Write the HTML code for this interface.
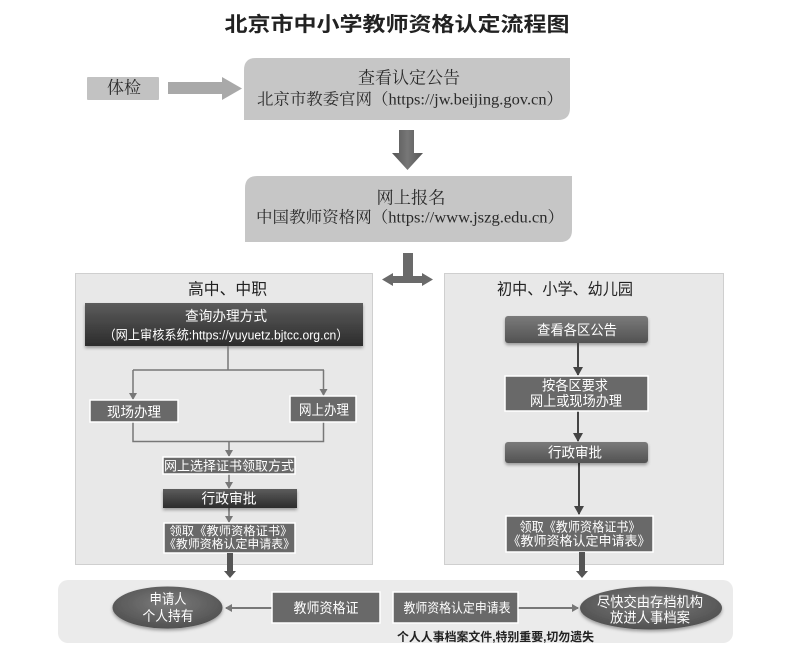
<!DOCTYPE html>
<html><head><meta charset="utf-8">
<style>
html,body{margin:0;padding:0;background:#fff;}
svg{display:block;}
.s{font-family:"Liberation Sans","Noto Sans CJK SC",sans-serif;}
.r{font-family:"Liberation Serif","Noto Serif CJK SC",serif;}
</style></head>
<body>
<svg width="801" height="668" viewBox="0 0 801 668" xmlns="http://www.w3.org/2000/svg">
<defs>
<linearGradient id="dk" x1="0" y1="0" x2="0" y2="1">
<stop offset="0" stop-color="#5c5c5c"/><stop offset="1" stop-color="#2c2c2c"/>
</linearGradient>
<linearGradient id="md" x1="0" y1="0" x2="0" y2="1">
<stop offset="0" stop-color="#7a7a7a"/><stop offset="1" stop-color="#525252"/>
</linearGradient>
<linearGradient id="ar" x1="0" y1="0" x2="1" y2="0">
<stop offset="0" stop-color="#555"/><stop offset="0.5" stop-color="#777"/><stop offset="1" stop-color="#555"/>
</linearGradient>
<radialGradient id="el" cx="0.5" cy="0.4" r="0.6">
<stop offset="0" stop-color="#7c7c7c"/><stop offset="1" stop-color="#505050"/>
</radialGradient>
<filter id="sh" x="-10%" y="-20%" width="120%" height="160%">
<feDropShadow dx="0" dy="2" stdDeviation="1.5" flood-color="#000" flood-opacity="0.35"/>
</filter>
<marker id="ah" markerWidth="8" markerHeight="8" refX="6" refY="4" orient="auto" markerUnits="userSpaceOnUse">
<path d="M0,0 L7,4 L0,8 Z" fill="#777"/>
</marker>
<marker id="ahd" markerWidth="10" markerHeight="10" refX="8" refY="5" orient="auto" markerUnits="userSpaceOnUse">
<path d="M0,0 L9,5 L0,10 Z" fill="#444"/>
</marker>
</defs>

<!-- Title -->
<text class="s" x="397" y="25" font-size="20" font-weight="bold" fill="#222" text-anchor="middle" dominant-baseline="central" textLength="345" lengthAdjust="spacingAndGlyphs">北京市中小学教师资格认定流程图</text>

<!-- 体检 -->
<rect x="87" y="77" width="72" height="23" fill="#c2c2c2" rx="1"/>
<text class="r" x="124" y="88" font-size="17" fill="#2a2a2a" text-anchor="middle" dominant-baseline="central" textLength="34" lengthAdjust="spacingAndGlyphs">体检</text>
<path d="M168,82 H222 V77 L242,88.5 L222,100 V94 H168 Z" fill="#a9a9a9"/>

<!-- Box 1 -->
<path d="M256,58 H570 V108 Q570,120 558,120 H244 V70 Q244,58 256,58 Z" fill="#c6c6c6"/>
<text class="r" x="409" y="78" font-size="17" fill="#2a2a2a" text-anchor="middle" dominant-baseline="central" textLength="102" lengthAdjust="spacingAndGlyphs">查看认定公告</text>
<text class="r" x="410" y="100" font-size="16" fill="#2a2a2a" text-anchor="middle" dominant-baseline="central" textLength="306" lengthAdjust="spacingAndGlyphs">北京市教委官网（https://jw.beijing.gov.cn）</text>

<!-- Down arrow -->
<path d="M399,130 H414 V153 H423 L407.5,170 L392,153 H399 Z" fill="url(#ar)"/>

<!-- Box 2 -->
<path d="M257,176 H572 V230 Q572,242 560,242 H245 V188 Q245,176 257,176 Z" fill="#c6c6c6"/>
<text class="r" x="411" y="198" font-size="17" fill="#2a2a2a" text-anchor="middle" dominant-baseline="central" textLength="69" lengthAdjust="spacingAndGlyphs">网上报名</text>
<text class="r" x="410" y="218" font-size="16" fill="#2a2a2a" text-anchor="middle" dominant-baseline="central" textLength="308" lengthAdjust="spacingAndGlyphs">中国教师资格网（https://www.jszg.edu.cn）</text>

<!-- T arrow -->
<path d="M403,253 H413 V276 H422 V273 L433,279.5 L422,286 V283 H393 V286 L382,279.5 L393,273 V276 H403 Z" fill="#6a6a6a"/>

<!-- Panels -->
<rect x="75.5" y="273.5" width="297" height="291" fill="#e8e8e8" stroke="#cfcfcf" stroke-width="1"/>
<rect x="444.5" y="273.5" width="279" height="291" fill="#e8e8e8" stroke="#cfcfcf" stroke-width="1"/>

<text class="s" x="227.5" y="290" font-size="16" fill="#222" text-anchor="middle" dominant-baseline="central" textLength="79" lengthAdjust="spacingAndGlyphs">高中、中职</text>
<text class="s" x="565" y="290" font-size="16" fill="#222" text-anchor="middle" dominant-baseline="central" textLength="136" lengthAdjust="spacingAndGlyphs">初中、小学、幼儿园</text>

<!-- Left flow -->
<rect x="85" y="303" width="278" height="43" fill="url(#dk)" filter="url(#sh)"/>
<text class="s" x="226" y="316" font-size="14" fill="#fff" text-anchor="middle" dominant-baseline="central" textLength="82" lengthAdjust="spacingAndGlyphs">查询办理方式</text>
<text class="s" x="226" y="335" font-size="13" fill="#fff" text-anchor="middle" dominant-baseline="central" textLength="245" lengthAdjust="spacingAndGlyphs">（网上审核系统:https://yuyuetz.bjtcc.org.cn）</text>

<g stroke="#777" stroke-width="1.5" fill="none">
<line x1="228" y1="346" x2="228" y2="370"/>
<line x1="133" y1="370" x2="324" y2="370"/>
<line x1="133" y1="370" x2="133" y2="399" marker-end="url(#ah)"/>
<line x1="323.5" y1="370" x2="323.5" y2="395" marker-end="url(#ah)"/>
<polyline points="133,422 133,441.5 323.5,441.5 323.5,422"/>
<line x1="229" y1="441" x2="229" y2="456" marker-end="url(#ah)"/>
<line x1="229" y1="474" x2="229" y2="488" marker-end="url(#ah)"/>
<line x1="229" y1="508" x2="229" y2="522" marker-end="url(#ah)"/>
</g>

<rect x="90" y="400" width="88" height="22" fill="#696969" stroke="#fff" stroke-width="1.5"/>
<text class="s" x="134" y="412" font-size="14" fill="#fff" text-anchor="middle" dominant-baseline="central" textLength="54" lengthAdjust="spacingAndGlyphs">现场办理</text>
<rect x="290" y="396" width="66" height="26" fill="#696969" stroke="#fff" stroke-width="1.5"/>
<text class="s" x="324" y="410" font-size="14" fill="#fff" text-anchor="middle" dominant-baseline="central" textLength="50" lengthAdjust="spacingAndGlyphs">网上办理</text>

<rect x="163" y="457" width="132" height="17" fill="#696969" stroke="#fff" stroke-width="1.5"/>
<text class="s" x="229" y="466" font-size="13" fill="#fff" text-anchor="middle" dominant-baseline="central" textLength="130" lengthAdjust="spacingAndGlyphs">网上选择证书领取方式</text>

<rect x="163" y="489" width="134" height="19" fill="url(#dk)" filter="url(#sh)"/>
<text class="s" x="229" y="498.5" font-size="14" fill="#fff" text-anchor="middle" dominant-baseline="central" textLength="55" lengthAdjust="spacingAndGlyphs">行政审批</text>

<rect x="164" y="523" width="131" height="30" fill="#696969" stroke="#fff" stroke-width="1.5"/>
<text class="s" x="231" y="531" font-size="12" fill="#fff" text-anchor="middle" dominant-baseline="central" textLength="123" lengthAdjust="spacingAndGlyphs">领取《教师资格证书》</text>
<text class="s" x="229.5" y="544" font-size="12" fill="#fff" text-anchor="middle" dominant-baseline="central" textLength="131" lengthAdjust="spacingAndGlyphs">《教师资格认定申请表》</text>

<!-- Right flow -->
<rect x="505" y="316" width="143" height="27" rx="3" fill="url(#md)" filter="url(#sh)"/>
<text class="s" x="577" y="330" font-size="14" fill="#fff" text-anchor="middle" dominant-baseline="central" textLength="80" lengthAdjust="spacingAndGlyphs">查看各区公告</text>

<g stroke="#444" stroke-width="2" fill="none">
<line x1="578" y1="343" x2="578" y2="375" marker-end="url(#ahd)"/>
<line x1="578" y1="411" x2="578" y2="441" marker-end="url(#ahd)"/>
<line x1="579" y1="463" x2="579" y2="514" marker-end="url(#ahd)"/>
</g>

<rect x="505" y="376" width="143" height="35" fill="#696969" stroke="#fff" stroke-width="1.5"/>
<text class="s" x="575" y="385.5" font-size="14" fill="#fff" text-anchor="middle" dominant-baseline="central" textLength="66" lengthAdjust="spacingAndGlyphs">按各区要求</text>
<text class="s" x="576" y="401" font-size="14" fill="#fff" text-anchor="middle" dominant-baseline="central" textLength="92" lengthAdjust="spacingAndGlyphs">网上或现场办理</text>

<rect x="505" y="442" width="143" height="21" rx="3" fill="url(#md)" filter="url(#sh)"/>
<text class="s" x="575" y="452.5" font-size="14" fill="#fff" text-anchor="middle" dominant-baseline="central" textLength="54" lengthAdjust="spacingAndGlyphs">行政审批</text>

<rect x="506" y="516" width="147" height="36" fill="#696969" stroke="#fff" stroke-width="1.5"/>
<text class="s" x="580" y="527" font-size="13" fill="#fff" text-anchor="middle" dominant-baseline="central" textLength="121" lengthAdjust="spacingAndGlyphs">领取《教师资格证书》</text>
<text class="s" x="579" y="541" font-size="13" fill="#fff" text-anchor="middle" dominant-baseline="central" textLength="143" lengthAdjust="spacingAndGlyphs">《教师资格认定申请表》</text>

<!-- Thick down connectors -->
<path d="M227,553 H233 V571 H236 L230,578 L224,571 H227 Z" fill="#555"/>
<path d="M579,552 H585 V571 H588 L582,578 L576,571 H579 Z" fill="#555"/>

<!-- Bottom band -->
<rect x="58" y="580" width="675" height="63" rx="10" fill="#ebebeb"/>

<ellipse cx="167.5" cy="607.5" rx="55" ry="21" fill="url(#el)" filter="url(#sh)"/>
<text class="s" x="168" y="599" font-size="14" fill="#fff" text-anchor="middle" dominant-baseline="central" textLength="37" lengthAdjust="spacingAndGlyphs">申请人</text>
<text class="s" x="168" y="616" font-size="14" fill="#fff" text-anchor="middle" dominant-baseline="central" textLength="51" lengthAdjust="spacingAndGlyphs">个人持有</text>

<ellipse cx="651" cy="608" rx="71" ry="21.5" fill="url(#el)" filter="url(#sh)"/>
<text class="s" x="650" y="602" font-size="14" fill="#fff" text-anchor="middle" dominant-baseline="central" textLength="106" lengthAdjust="spacingAndGlyphs">尽快交由存档机构</text>
<text class="s" x="650" y="617.5" font-size="14" fill="#fff" text-anchor="middle" dominant-baseline="central" textLength="80" lengthAdjust="spacingAndGlyphs">放进人事档案</text>

<g stroke="#777" stroke-width="2" fill="none">
<line x1="272" y1="608" x2="226" y2="608" marker-end="url(#ah)"/>
<line x1="518" y1="608" x2="578" y2="608" marker-end="url(#ah)"/>
</g>

<rect x="272" y="592" width="108" height="31" fill="#696969" stroke="#fff" stroke-width="1.5"/>
<text class="s" x="326" y="608" font-size="14" fill="#fff" text-anchor="middle" dominant-baseline="central" textLength="65" lengthAdjust="spacingAndGlyphs">教师资格证</text>
<rect x="393" y="592" width="125" height="31" fill="#696969" stroke="#fff" stroke-width="1.5"/>
<text class="s" x="457" y="608" font-size="13" fill="#fff" text-anchor="middle" dominant-baseline="central" textLength="107" lengthAdjust="spacingAndGlyphs">教师资格认定申请表</text>

<text class="s" x="495.5" y="637" font-size="12" font-weight="bold" fill="#222" text-anchor="middle" dominant-baseline="central" textLength="197" lengthAdjust="spacingAndGlyphs">个人人事档案文件,特别重要,切勿遗失</text>
</svg>
</body></html>
